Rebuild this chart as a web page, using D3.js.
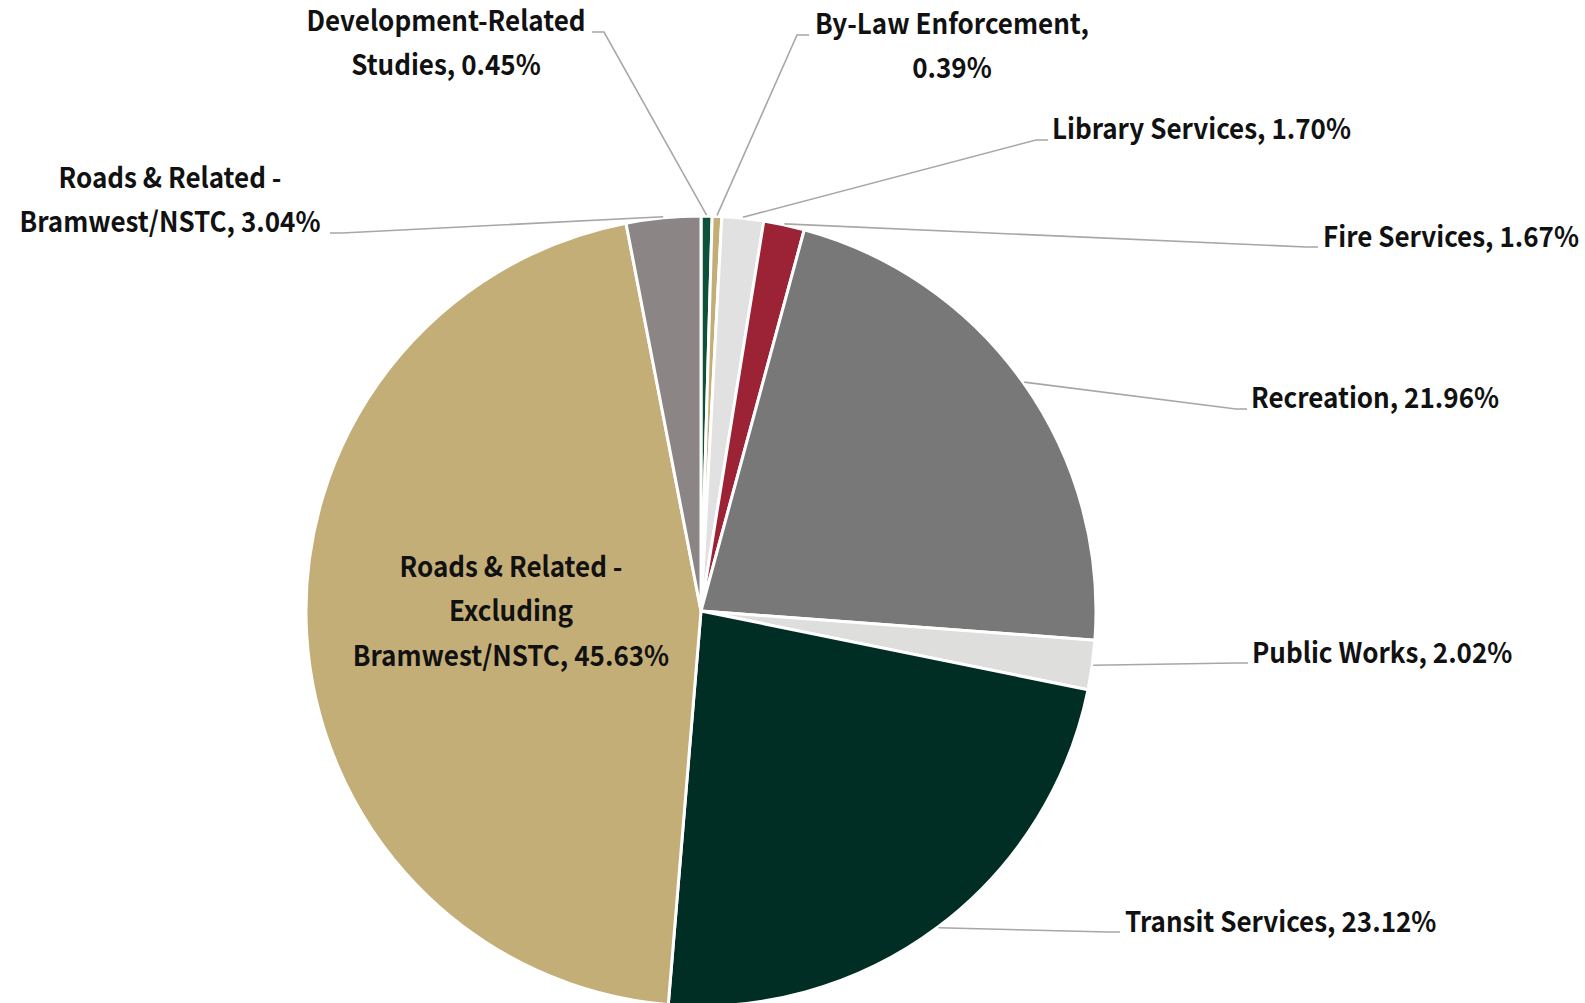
<!DOCTYPE html>
<html>
<head>
<meta charset="utf-8">
<script src="https://cdn.jsdelivr.net/npm/d3@7"></script>
<style>
  html, body { margin: 0; padding: 0; background: #ffffff; }
  svg { display: block; }
  .lbl { font-family: "Noto Sans CJK JP", "Noto Sans", sans-serif; font-weight: 700; font-size: 28px; fill: #111111; }
</style>
</head>
<body>
<svg id="chart" width="1585" height="1003"></svg>
<script>
// Share of the program total by service, clockwise from 12 o'clock
const categories = [
  "Development-Related Studies",
  "By-Law Enforcement",
  "Library Services",
  "Fire Services",
  "Recreation",
  "Public Works",
  "Transit Services",
  "Roads & Related - Excluding Bramwest/NSTC",
  "Roads & Related - Bramwest/NSTC"
];
const shares = [0.45, 0.39, 1.70, 1.67, 21.96, 2.02, 23.12, 45.63, 3.04];
const sliceColors = [
  "#0c5139", "#c4ae78", "#e1e1e1", "#9b2335", "#787878",
  "#dededd", "#012e24", "#c4ae78", "#8b8685"
];

// Label placement: words per line, anchor point, and leader-line bends
const labelLayout = [
  { lines: [1, 2], anchor: "middle", x: 446, y: 31, elbow: [604, 32], end: [592, 32] },
  { lines: [2, 1], anchor: "middle", x: 952, y: 34, elbow: [797, 35], end: [809, 35] },
  { lines: [3], anchor: "start", x: 1052, y: 139, elbow: [1036, 140], end: [1048, 140] },
  { lines: [3], anchor: "start", x: 1323, y: 247, elbow: [1306, 247], end: [1318, 247] },
  { lines: [2], anchor: "start", x: 1251, y: 408, elbow: [1236, 409], end: [1247, 409] },
  { lines: [3], anchor: "start", x: 1252, y: 663, elbow: [1236, 663], end: [1248, 663] },
  { lines: [3], anchor: "start", x: 1125, y: 932, elbow: [1108, 932], end: [1120, 932] },
  { lines: [4, 1, 2], anchor: "middle", x: 511, y: 577, inside: true },
  { lines: [4, 2], anchor: "middle", x: 170, y: 188, elbow: [342, 233], end: [330, 233] }
];

const cx = 701, cy = 611, radius = 395, lineGap = 44.5, textScaleX = 0.93;

const svg = d3.select("#chart");
const g = svg.append("g").attr("transform", `translate(${cx},${cy})`);

const pie = d3.pie().sort(null).value(d => d.value);
const arc = d3.arc().innerRadius(0).outerRadius(radius);

const data = categories.map((c, i) => ({ name: c, value: shares[i], color: sliceColors[i], layout: labelLayout[i] }));
const arcs = pie(data);

g.selectAll("path.slice")
  .data(arcs)
  .join("path")
  .attr("class", "slice")
  .attr("d", arc)
  .attr("fill", d => d.data.color)
  .attr("stroke", "#ffffff")
  .attr("stroke-width", 3)
  .attr("stroke-linejoin", "round");

// Leader lines from the slice rim to each outside label
const line = d3.line();
svg.selectAll("path.leader")
  .data(arcs.filter(d => !d.data.layout.inside))
  .join("path")
  .attr("class", "leader")
  .attr("fill", "none")
  .attr("stroke", "#a9a7a5")
  .attr("stroke-width", 1.6)
  .attr("d", d => {
    const a = (d.startAngle + d.endAngle) / 2;
    const start = [cx + Math.sin(a) * (radius + 1), cy - Math.cos(a) * (radius + 1)];
    return line([start, d.data.layout.elbow, d.data.layout.end]);
  });

// Labels: "Category, value%" wrapped by word counts, set slightly condensed
const labels = svg.selectAll("text.lbl")
  .data(arcs)
  .join("text")
  .attr("class", "lbl")
  .attr("text-anchor", d => d.data.layout.anchor)
  .attr("transform", d => `translate(${d.data.layout.x},${d.data.layout.y}) scale(${textScaleX},1)`);

labels.each(function (d) {
  const words = `${d.data.name}, ${d.data.value.toFixed(2)}%`.split(" ");
  const t = d3.select(this);
  let k = 0;
  d.data.layout.lines.forEach((n, li) => {
    t.append("tspan")
      .attr("x", 0)
      .attr("y", li * lineGap)
      .text(words.slice(k, k + n).join(" "));
    k += n;
  });
});
</script>
</body>
</html>
